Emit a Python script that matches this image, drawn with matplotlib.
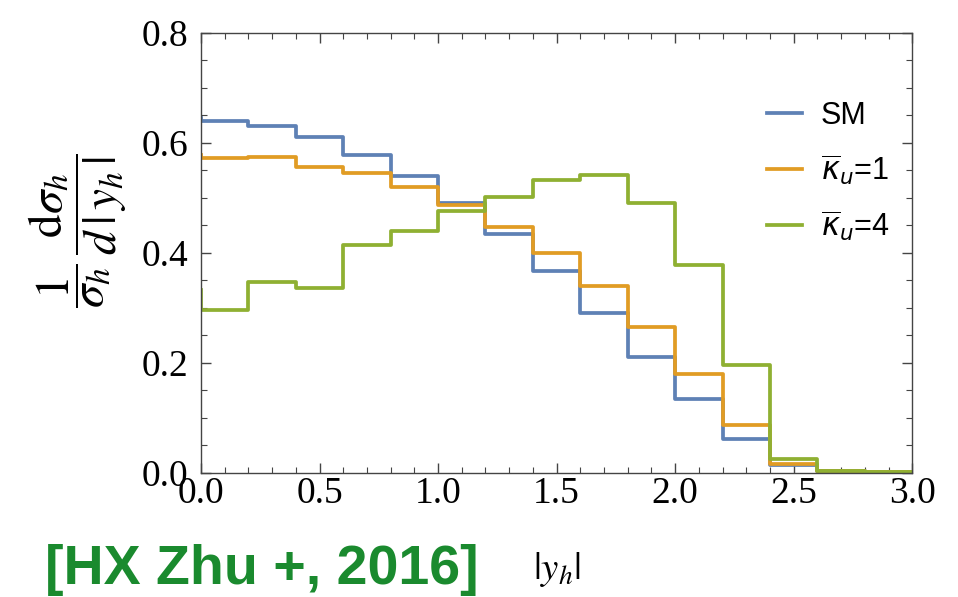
import numpy as np
import matplotlib
matplotlib.use("Agg")
import matplotlib.pyplot as plt
from matplotlib.ticker import MultipleLocator

# bin edges in |y_h| and normalised distributions
bin_edges = [0.0, 0.2, 0.4, 0.6, 0.8, 1.0, 1.2, 1.4, 1.6, 1.8, 2.0, 2.2, 2.4, 2.6, 2.8, 3.0]
sm = [0.640, 0.630, 0.610, 0.578, 0.539, 0.490, 0.434, 0.367, 0.290, 0.210, 0.133, 0.061, 0.013, 0.002, 0.001]
ku1 = [0.573, 0.574, 0.556, 0.546, 0.520, 0.487, 0.447, 0.399, 0.339, 0.264, 0.179, 0.087, 0.016, 0.003, 0.001]
ku4 = [0.295, 0.347, 0.335, 0.415, 0.440, 0.476, 0.501, 0.533, 0.542, 0.490, 0.378, 0.196, 0.025, 0.003, 0.001]
# value at the very first point (small vertical piece at |y_h| = 0)
first_pt = {"SM": 0.645, "k1": 0.578, "k4": 0.332}

labels = ["SM", r"$\overline{\kappa}_u$=1", r"$\overline{\kappa}_u$=4"]
colors = ["#5E81B5", "#E19C24", "#8FB032"]

plt.rcParams["mathtext.fontset"] = "dejavusans"

fig = plt.figure(figsize=(9.58, 5.97), dpi=100)
ax = fig.add_axes([0.2098, 0.2085, 0.7424, 0.7362])

for vals, start, lab, col in zip([sm, ku1, ku4], first_pt.values(), labels, colors):
    x = np.concatenate([[bin_edges[0]], bin_edges])
    y = np.concatenate([[start], vals, [vals[-1]]])
    ax.step(x, y, where="post", color=col, lw=2.7, label=lab)

ax.set_xlim(0, 3.0)
ax.set_ylim(0, 0.8)
ax.xaxis.set_major_locator(MultipleLocator(0.5))
ax.xaxis.set_minor_locator(MultipleLocator(0.1))
ax.yaxis.set_major_locator(MultipleLocator(0.2))
ax.yaxis.set_minor_locator(MultipleLocator(0.05))
ax.xaxis.set_major_formatter(matplotlib.ticker.FormatStrFormatter("%.1f"))
ax.yaxis.set_major_formatter(matplotlib.ticker.FormatStrFormatter("%.1f"))
ax.tick_params(which="both", direction="in", top=True, right=True, color="#444444")
ax.tick_params(which="major", length=7, width=1)
ax.tick_params(which="minor", length=4, width=0.8)
ax.tick_params(axis="y", pad=9)
ax.tick_params(axis="x", pad=3)
for lab in ax.get_xticklabels() + ax.get_yticklabels():
    lab.set_family("Liberation Serif")
    lab.set_fontsize(27)
for sp in ax.spines.values():
    sp.set_color("#444444")
    sp.set_linewidth(1.0)

ax.set_xlabel(r"$|y_h|$", fontsize=28, math_fontfamily="stix", va="center")
ax.xaxis.set_label_coords(0.5, -0.22)
ax.set_ylabel(r"$\dfrac{1}{\sigma_h}\,\dfrac{\mathrm{d}\sigma_h}{d\,|\,y_h\,|}$",
              fontsize=34, math_fontfamily="stix", va="center")
ax.yaxis.set_label_coords(-0.174, 0.55)

leg = ax.legend(loc="upper left", bbox_to_anchor=(0.796, 0.845), frameon=False,
                prop={"family": "Liberation Sans", "size": 22},
                borderpad=0, borderaxespad=0, handlelength=1.15,
                handletextpad=0.6, labelspacing=0.7)

fig.text(0.047, 0.022, "[HX Zhu +, 2016]", color="#1A8A2E", fontsize=40,
         fontweight="bold", family="Liberation Sans", va="baseline")

fig.savefig("out.png", dpi=100)
